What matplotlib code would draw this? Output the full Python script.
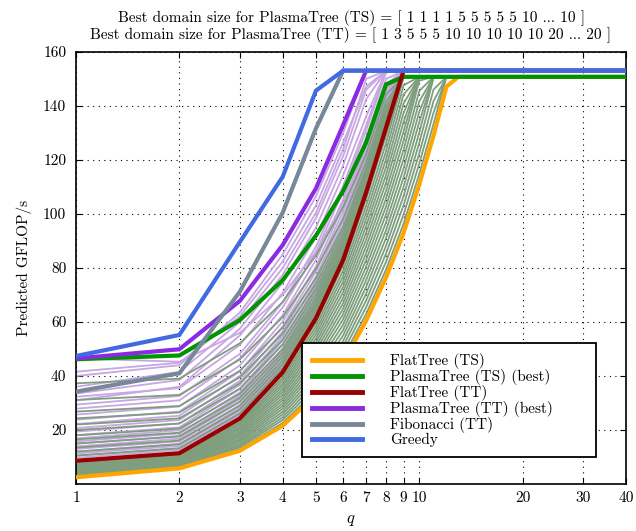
import matplotlib
matplotlib.use("Agg")
import matplotlib.pyplot as plt
from matplotlib.ticker import FixedLocator, FixedFormatter, NullLocator

plt.rcParams['font.family'] = ['cmr10', 'DejaVu Serif']
plt.rcParams['mathtext.fontset'] = 'cm'
plt.rcParams['axes.formatter.use_mathtext'] = True
plt.rcParams['axes.unicode_minus'] = False

# ---------------- data ----------------
x_ticks = [1, 2, 3, 4, 5, 6, 7, 8, 9, 10, 20, 30, 40]
x_ticklabels = ["1", "2", "3", "4", "5", "6", "7", "8", "9", "10", "20", "30", "40"]
y_ticks = [20, 40, 60, 80, 100, 120, 140, 160]

flat_ts_q = [1, 2, 3, 4, 5, 6, 7, 8, 9, 10, 11, 12, 13, 40]
flat_ts_v = [2.5, 5.8, 12.3, 21.6, 33, 45, 60.5, 76.5, 93, 111, 129, 147.2, 150.8, 150.8]

plasma_ts_best_q = [1, 2, 3, 4, 5, 6, 7, 8, 9, 40]
plasma_ts_best_v = [46.2, 47.6, 60.7, 75.5, 92, 108.5, 126.5, 148, 150.8, 150.8]

flat_tt_q = [1, 2, 3, 4, 5, 6, 7, 8, 9, 40]
flat_tt_v = [8.6, 11.4, 24.3, 41.4, 61.4, 83, 108, 132, 153.1, 153.1]

plasma_tt_best_q = [1, 2, 3, 4, 5, 6, 7, 40]
plasma_tt_best_v = [46.5, 49.9, 67.8, 88.5, 109.5, 133, 153.1, 153.1]

fibonacci_q = [1, 2, 3, 4, 5, 6, 40]
fibonacci_v = [34.2, 41.0, 71.2, 100.5, 131.7, 153.1, 153.1]

greedy_q = [1, 2, 3, 4, 5, 6, 40]
greedy_v = [47.4, 55.2, 89.6, 113.8, 145.7, 153.1, 153.1]

# PlasmaTree (TT), all domain sizes: values at q = 1, 2, 3, ...
plasma_tt_fan = [
    [46.5, 45.3, 56.0, 70.0, 86.0, 104.0, 125.0, 146.0, 153.1],
    [41.6, 44.9, 62.1, 82.4, 103.2, 126.5, 147.2, 153.1],
    [40.0, 44.0, 63.5, 85.0, 106.5, 130.0, 153.1],
    [36.0, 41.5, 60.0, 80.0, 100.5, 124.0, 150.0, 153.1],
    [33.5, 38.5, 57.5, 77.5, 98.5, 121.5, 146.0, 153.1],
    [32.3, 35.5, 51.5, 70.8, 91.5, 114.3, 136.1, 153.1],
    [31.0, 36.0, 55.0, 74.5, 95.0, 118.0, 142.5, 153.1],
    [29.4, 32.6, 48.2, 67.3, 87.9, 110.5, 132.8, 153.1],
    [27.9, 31.0, 46.5, 65.4, 85.9, 108.5, 131.0, 152.4, 153.1],
    [25.7, 28.7, 43.9, 62.6, 83.0, 105.5, 128.3, 150.0, 153.1],
    [23.8, 26.8, 41.7, 60.2, 80.6, 103.0, 126.0, 148.0, 153.1],
    [22.2, 25.3, 40.0, 58.4, 78.7, 101.0, 124.2, 146.4, 153.1],
    [20.7, 23.7, 38.2, 56.5, 76.8, 99.0, 122.4, 144.8, 153.1],
    [19.4, 22.4, 36.7, 54.8, 75.1, 97.3, 120.8, 143.4, 153.1],
    [18.1, 21.0, 35.2, 53.2, 73.4, 95.5, 119.3, 142.0, 153.1],
    [16.9, 19.9, 33.9, 51.8, 72.0, 94.0, 117.9, 140.8, 153.1],
    [15.8, 18.7, 32.6, 50.3, 70.5, 92.5, 116.6, 139.6, 153.1],
    [14.9, 17.8, 31.5, 49.2, 69.3, 91.3, 115.4, 138.6, 153.1],
    [13.9, 16.8, 30.4, 48.0, 68.1, 90.0, 114.3, 137.6, 153.1],
    [13.0, 15.8, 29.3, 46.8, 66.9, 88.8, 113.2, 136.6, 153.1],
    [12.0, 14.9, 28.2, 45.6, 65.7, 87.5, 112.1, 135.6, 153.1],
    [11.3, 14.1, 27.3, 44.7, 64.8, 86.5, 111.2, 134.8, 153.1],
    [10.5, 13.3, 26.5, 43.8, 63.8, 85.5, 110.3, 134.0, 153.1],
    [9.7, 12.6, 25.6, 42.8, 62.8, 84.5, 109.4, 133.2, 153.1],
]

# PlasmaTree (TS), small domain sizes (above FlatTree (TT) at q = 1)
plasma_ts_fan_upper = [
    [37.3, 39.0, 52.1, 67.4, 84.7, 102.5, 122.1, 144.2, 150.8],
    [31.1, 33.0, 46.1, 61.8, 79.7, 98.2, 119.1, 141.6, 150.8],
    [26.8, 28.9, 41.9, 57.9, 76.2, 95.3, 117.0, 139.7, 150.8],
    [24.3, 26.5, 39.5, 55.7, 74.2, 93.7, 115.7, 138.7, 150.8],
    [22.0, 24.3, 37.3, 53.5, 72.3, 92.1, 114.6, 137.7, 150.8],
    [20.0, 22.4, 35.3, 51.7, 70.7, 90.7, 113.6, 136.8, 150.8],
    [18.0, 20.5, 33.4, 49.9, 69.1, 89.4, 112.6, 136.0, 150.8],
    [16.5, 19.0, 31.9, 48.6, 67.8, 88.4, 111.9, 135.4, 150.8],
    [15.0, 17.6, 30.5, 47.2, 66.6, 87.3, 111.1, 134.7, 150.8],
    [13.5, 16.1, 29.0, 45.8, 65.4, 86.3, 110.4, 134.1, 150.8],
    [12.0, 14.7, 27.6, 44.5, 64.2, 85.3, 109.7, 133.4, 150.8],
    [10.5, 13.2, 26.1, 43.1, 62.9, 84.3, 108.9, 132.8, 150.8],
]

# PlasmaTree (TS), large domain sizes (dense band above FlatTree (TS))
plasma_ts_fan_band = [
    [2.8, 6.1, 12.9, 22.6, 34.5, 47.0, 63.0, 79.4, 96.4, 114.9, 133.3, 150.8],
    [3.1, 6.4, 13.6, 23.7, 36.0, 49.0, 65.5, 82.3, 99.8, 118.7, 137.5, 150.8],
    [3.5, 6.7, 14.2, 24.7, 37.5, 51.0, 68.0, 85.3, 103.3, 122.5, 141.8, 150.8],
    [3.8, 7.0, 14.8, 25.8, 39.0, 53.0, 70.5, 88.2, 106.7, 126.4, 146.1, 150.8],
    [4.1, 7.3, 15.5, 26.8, 40.5, 55.0, 73.0, 91.1, 110.1, 130.2, 150.3, 150.8],
    [4.4, 7.6, 16.1, 27.9, 42.0, 57.0, 75.5, 94.0, 113.5, 134.1, 150.8],
    [4.7, 7.9, 16.7, 28.9, 43.5, 59.0, 78.0, 96.9, 116.9, 137.9, 150.8],
    [5.1, 8.2, 17.4, 29.9, 45.0, 61.0, 80.5, 99.9, 120.4, 141.7, 150.8],
    [5.4, 8.5, 18.0, 31.0, 46.5, 63.0, 83.0, 102.8, 123.8, 145.6, 150.8],
    [5.7, 8.7, 18.6, 32.0, 47.9, 65.0, 85.5, 105.7, 127.2, 149.4, 150.8],
    [6.0, 9.0, 19.2, 33.1, 49.4, 67.0, 88.0, 108.6, 130.6, 150.8],
    [6.4, 9.3, 19.9, 34.1, 50.9, 69.0, 90.5, 111.6, 134.1, 150.8],
    [6.7, 9.6, 20.5, 35.1, 52.4, 71.0, 93.0, 114.5, 137.5, 150.8],
    [7.0, 9.9, 21.1, 36.2, 53.9, 73.0, 95.5, 117.4, 140.9, 150.8],
    [7.3, 10.2, 21.8, 37.2, 55.4, 75.0, 98.0, 120.3, 144.3, 150.8],
    [7.6, 10.5, 22.4, 38.3, 56.9, 77.0, 100.5, 123.2, 147.7, 150.8],
    [8.0, 10.8, 23.0, 39.3, 58.4, 79.0, 103.0, 126.2, 150.8],
    [8.3, 11.1, 23.7, 40.4, 59.9, 81.0, 105.5, 129.1, 150.8],
]

labels = ["FlatTree (TS)", "PlasmaTree (TS) (best)", "FlatTree (TT)",
          "PlasmaTree (TT) (best)", "Fibonacci (TT)", "Greedy"]
title_lines = ["Best domain size for PlasmaTree (TS) = [ 1 1 1 1 5 5 5 5 5 10 ... 10 ]",
               "Best domain size for PlasmaTree (TT) = [ 1 3 5 5 5 10 10 10 10 10 20 ... 20 ]"]

# ---------------- styles ----------------
c_tt_fan = '#C7A6E2'
c_ts_fan = '#7E9E7E'
colors = ['#FFA500', '#009400', '#990000', '#8A2BE2', '#778899', '#4169E1']

fig = plt.figure(figsize=(6.36, 5.31), dpi=100)
ax = fig.add_axes([76 / 636, 47 / 531, 550 / 636, 432 / 531])

for row in plasma_tt_fan:
    ax.plot(range(1, len(row) + 1), row, color=c_tt_fan, lw=1.3, zorder=2)
for row in plasma_ts_fan_upper:
    ax.plot(range(1, len(row) + 1), row, color=c_ts_fan, lw=1.3, zorder=2)
for row in plasma_ts_fan_band:
    ax.plot(range(1, len(row) + 1), row, color=c_ts_fan, lw=1.3, zorder=2)

main = [(flat_ts_q, flat_ts_v), (plasma_ts_best_q, plasma_ts_best_v),
        (flat_tt_q, flat_tt_v), (plasma_tt_best_q, plasma_tt_best_v),
        (fibonacci_q, fibonacci_v), (greedy_q, greedy_v)]
for (qq, vv), col, lab in zip(main, colors, labels):
    ax.plot(qq, vv, color=col, lw=3.0, label=lab, zorder=3,
            solid_joinstyle='miter')

ax.set_xscale('log')
ax.set_xlim(1, 40)
ax.set_ylim(0, 160)
ax.xaxis.set_major_locator(FixedLocator(x_ticks))
ax.xaxis.set_major_formatter(FixedFormatter(x_ticklabels))
ax.xaxis.set_minor_locator(NullLocator())
ax.set_yticks(y_ticks)
ax.set_yticklabels([str(v) for v in y_ticks])
ax.tick_params(axis='both', which='both', direction='in', top=True, right=True,
               labelsize=11, length=4, width=0.8)
ax.tick_params(axis='x', pad=5)
ax.tick_params(axis='y', pad=7)
ax.grid(True, which='major', color='black', linestyle=(0, (1, 4)), linewidth=0.8)
for sp in ax.spines.values():
    sp.set_linewidth(1.2)

ax.set_xlabel('$q$', fontsize=12, labelpad=6)
ax.set_ylabel('Predicted GFLOP/s', fontsize=11, labelpad=8)
ax.set_title("\n".join(title_lines), fontsize=11, pad=9, linespacing=1.15)

leg = ax.legend(loc='upper left', bbox_to_anchor=(0.411, 0.06, 0.534, 0.266),
                mode='expand', fontsize=11,
                frameon=True, fancybox=False, edgecolor='black', framealpha=1,
                handlelength=3.3, handletextpad=1.8, labelspacing=0.0,
                borderpad=0.65, borderaxespad=0.0)
leg.get_frame().set_linewidth(1.3)
leg.set_zorder(5)
for h in leg.get_lines():
    h.set_linewidth(3.5)

fig.savefig('out.png', dpi=100)
